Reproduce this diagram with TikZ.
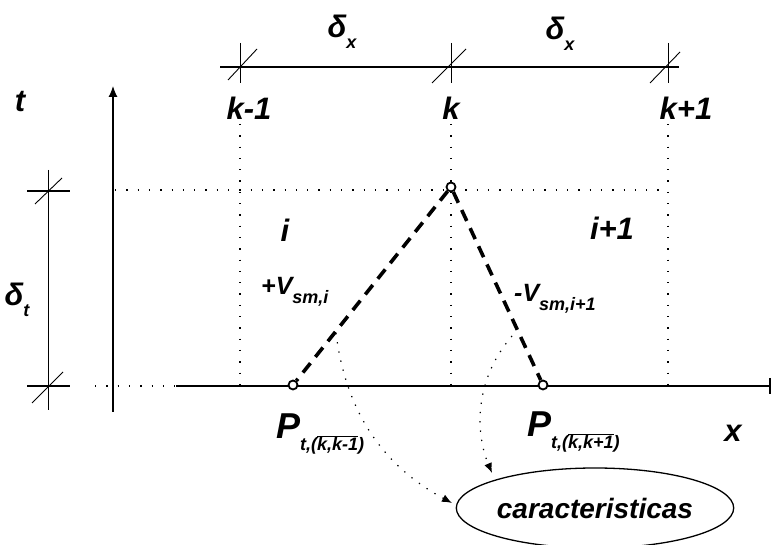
\documentclass[tikz,border=0pt]{standalone}
\usepackage{fontspec}
\setmainfont{Liberation Sans}
\usetikzlibrary{arrows.meta,shapes.geometric}
\newcommand\lsub[2][14]{\raisebox{-0.35em}{\fontsize{#1}{#1}\selectfont #2}}
\begin{document}
\begin{tikzpicture}[x=1pt,y=-1pt,
  lbl/.style={font=\fontsize{31}{31}\selectfont\bfseries\itshape, inner sep=0pt},
  vlbl/.style={font=\fontsize{25}{25}\selectfont\bfseries\itshape, inner sep=0pt},
  plbl/.style={font=\fontsize{36}{36}\selectfont\bfseries\itshape, inner sep=0pt},
  dimline/.style={line width=1.1pt},
  thinline/.style={line width=0.9pt},
  sparse/.style={line width=1.2pt, dash pattern=on 1.3pt off 10pt},
  charline/.style={line width=3.6pt, dash pattern=on 12pt off 8pt},
  pt/.style={circle, draw, line width=1.8pt, minimum size=9pt, inner sep=0pt, fill=white},
  flow/.style={line width=1.2pt, dash pattern=on 1.3pt off 8pt, -{Latex[length=10pt,width=8pt]}},
  axisarrow/.style={line width=1.1pt, -{Latex[length=11pt,width=9pt]}}
]
\useasboundingbox (0,0) rectangle (772,545);

% ---- coordinates
\coordinate (dxL) at (220,67);
\coordinate (dxR) at (679,67);
\coordinate (kmT) at (240,43); \coordinate (kmB) at (240,83);
\coordinate (kT) at (451,43);  \coordinate (kB) at (451,83);
\coordinate (kpT) at (668,43); \coordinate (kpB) at (668,83);
\coordinate (kmS1) at (228,80); \coordinate (kmS2) at (257,49);
\coordinate (kS1) at (432,83);  \coordinate (kS2) at (466,49);
\coordinate (kpS1) at (650,83); \coordinate (kpS2) at (680,52);

% top dimension
\draw[dimline] (dxL) -- (dxR);
\draw[thinline] (kmT) -- (kmB); \draw[thinline] (kmS1) -- (kmS2);
\draw[thinline] (kT) -- (kB);   \draw[thinline] (kS1) -- (kS2);
\draw[thinline] (kpT) -- (kpB); \draw[thinline] (kpS1) -- (kpS2);

\node[lbl] (dx1) at (342,32) {δ\lsub[18]{x}};
\node[lbl] (dx2) at (560,34) {δ\lsub[18]{x}};
\node[lbl] (lkm) at (249,108) {k-1};
\node[lbl] (lk)  at (451,108) {k};
\node[lbl] (lkp) at (686,108) {k+1};
\node[lbl] (lt)  at (20,102) {t};

% vertical grid lines
\coordinate (gmT) at (240,124); \coordinate (gmB) at (240,385);
\coordinate (gkT) at (451,124); \coordinate (gkB) at (451,385);
\coordinate (gpT) at (668,124); \coordinate (gpB) at (668,385);
\draw[sparse] (gmT) -- (gmB);
\draw[sparse] (gkT) -- (gkB);
\draw[sparse] (gpT) -- (gpB);
\coordinate (hL) at (115,190); \coordinate (hR) at (668,190);
\draw[sparse] (hL) -- (hR);

% left dimension delta t
\coordinate (dtT) at (48,170); \coordinate (dtB) at (48,410);
\draw[thinline] (dtT) -- (dtB);
\coordinate (dt1L) at (27,191); \coordinate (dt1R) at (70,191);
\coordinate (dt2L) at (27,386); \coordinate (dt2R) at (70,386);
\draw[dimline] (dt1L) -- (dt1R);
\draw[dimline] (dt2L) -- (dt2R);
\coordinate (dt1S1) at (35,204); \coordinate (dt1S2) at (62,178);
\coordinate (dt2S1) at (32,403); \coordinate (dt2S2) at (63,372);
\draw[thinline] (dt1S1) -- (dt1S2);
\draw[thinline] (dt2S1) -- (dt2S2);
\node[lbl] (ldt) at (17,300) {δ\lsub[18]{t}};

% t axis
\coordinate (tB) at (113,412); \coordinate (tT) at (113,86);
\draw[axisarrow] (tB) -- (tT);

% x axis
\coordinate (xD) at (95,386); \coordinate (xS) at (176,386); \coordinate (xE) at (770,386);
\coordinate (xEt) at (770,378); \coordinate (xEb) at (770,394);
\draw[sparse] (xD) -- (xS);
\draw[line width=1.8pt] (xS) -- (xE);
\draw[line width=2.2pt] (xEt) -- (xEb);

% characteristic points
\node[pt] (apex) at (451,187) {};
\node[pt] (pl) at (293,385) {};
\node[pt] (pr) at (543,385) {};
\draw[charline] (apex) -- (pl);
\draw[charline] (apex) -- (pr);

\node[lbl] (li)  at (285,230) {i};
\node[lbl] (lip) at (612,228) {i+1};
\node[vlbl, anchor=west] (vl) at (261,292) {+V\lsub[18]{sm,i}};
\node[vlbl, anchor=west] (vr) at (514,299) {-V\lsub[18]{sm,i+1}};

\node[plbl, anchor=west] (ppl) at (276,434) {P\lsub[18]{t,($\overline{\hbox{k,k-1}}$)}};
\node[plbl, anchor=west] (ppr) at (527,432) {P\lsub[18]{t,($\overline{\hbox{k,k+1}}$)}};
\node[lbl] (lx) at (733,433) {x};

% ellipse
\node[ellipse, draw, line width=1.3pt, minimum width=266pt, minimum height=80pt, inner sep=0pt,
      font=\fontsize{28}{28}\selectfont\bfseries\itshape] (car) at (595,508) {caracteristicas};

% flow arrows
\coordinate (f1s) at (336,333);
\coordinate (f2s) at (512,336);
\draw[flow] (f1s) .. controls (348,430) and (400,475) .. (452,503);
\draw[flow] (f2s) .. controls (470,385) and (478,440) .. (492,473);
\end{tikzpicture}
\end{document}
